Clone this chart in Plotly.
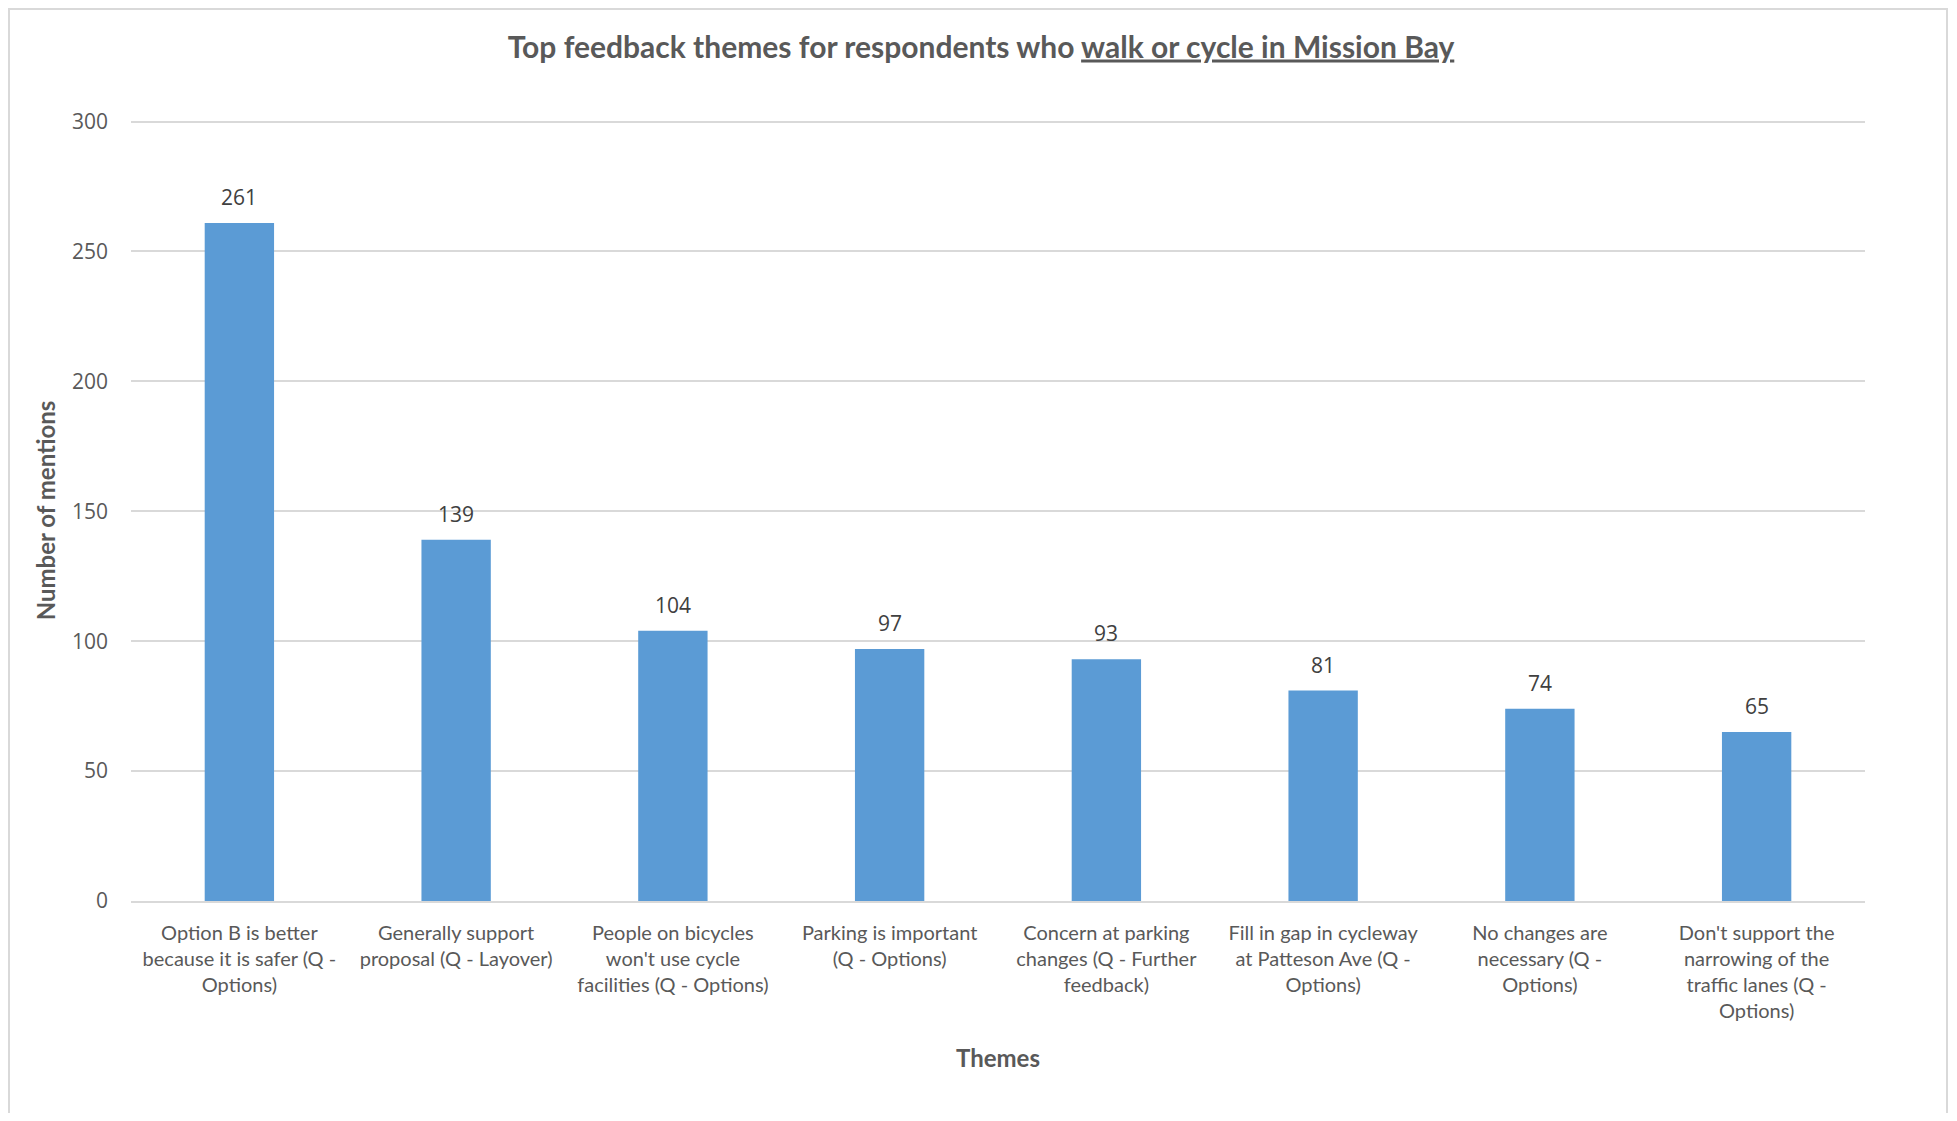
import plotly.graph_objects as go

categories = [
    "Option B is better<br>because it is safer (Q -<br>Options)",
    "Generally support<br>proposal (Q - Layover)",
    "People on bicycles<br>won't use cycle<br>facilities (Q - Options)",
    "Parking is important<br>(Q - Options)",
    "Concern at parking<br>changes (Q - Further<br>feedback)",
    "Fill in gap in cycleway<br>at Patteson Ave (Q -<br>Options)",
    "No changes are<br>necessary (Q -<br>Options)",
    "Don't support the<br>narrowing of the<br>traffic lanes (Q -<br>Options)",
]
values = [261, 139, 104, 97, 93, 81, 74, 65]
y_ticks = [0, 50, 100, 150, 200, 250, 300]

TEXT = "#595959"
GRID = "#D9D9D9"
BAR = "#5B9BD5"
CAT_FONT = "Lato, Open Sans, sans-serif"
TITLE_FONT = "Lato, Open Sans, sans-serif"
NUM_FONT = "Open Sans, sans-serif"

fig = go.Figure()
fig.add_trace(go.Bar(
    x=categories, y=values, marker=dict(color=BAR, line=dict(width=0)),
    hoverinfo="x+y",
))

for c, v in zip(categories, values):
    fig.add_annotation(x=c, y=v, text=str(v), showarrow=False, yanchor="middle",
                       yshift=26, font=dict(family=NUM_FONT, size=21, color="#404040"))

# the page body adds an 8px margin; the figure is sized so the page needs no scrollbars
OFF = 8
PAGE_W, PAGE_H = 1957, 1121
W, H = PAGE_W - 2 * OFF, PAGE_H - 2 * OFF
# plot area in page pixels
PX0, PX1, PY0, PY1 = 131, 1865, 120, 901
L, T = PX0 - OFF, PY0 - OFF
R, B = W - (PX1 - OFF), H - (PY1 - OFF)
pw, ph = PX1 - PX0, PY1 - PY0

def px(x):
    return (x - PX0) / pw

def py(y):
    return (PY1 - y) / ph

# chart border
fig.add_shape(type="rect", xref="paper", yref="paper",
              x0=px(9), x1=px(1947), y0=py(1140), y1=py(9),
              line=dict(color=GRID, width=2), fillcolor="rgba(0,0,0,0)", layer="below")

fig.update_layout(
    width=W, height=H,
    margin=dict(l=L, r=R, t=T, b=B),
    paper_bgcolor="white", plot_bgcolor="white",
    bargap=0.68,
    showlegend=False,
    title=dict(text="<b>Top feedback themes for respondents who <u>walk or cycle in Mission Bay</u></b>",
               x=px(981), xref="paper", xanchor="center",
               y=1 - (47 - OFF) / H, yanchor="middle",
               font=dict(family=TITLE_FONT, size=30, color=TEXT)),
    xaxis=dict(
        showgrid=False, showline=True, linecolor=GRID, linewidth=2,
        ticks="", tickfont=dict(family=CAT_FONT, size=20, color=TEXT),
        tickangle=0, ticklabelstandoff=13,
        title=dict(text="<b>Themes</b>", font=dict(family=TITLE_FONT, size=24, color=TEXT), standoff=29),
    ),
    yaxis=dict(
        range=[0, 300.6], tickvals=y_ticks, showgrid=True, gridcolor=GRID, gridwidth=1.5,
        zeroline=False, showline=False, ticks="",
        tickfont=dict(family=NUM_FONT, size=21, color=TEXT), ticklabelstandoff=22,
        title=dict(text="<b>Number of mentions</b>", font=dict(family=TITLE_FONT, size=24, color=TEXT), standoff=9),
    ),
)

fig.write_html("out.html")
